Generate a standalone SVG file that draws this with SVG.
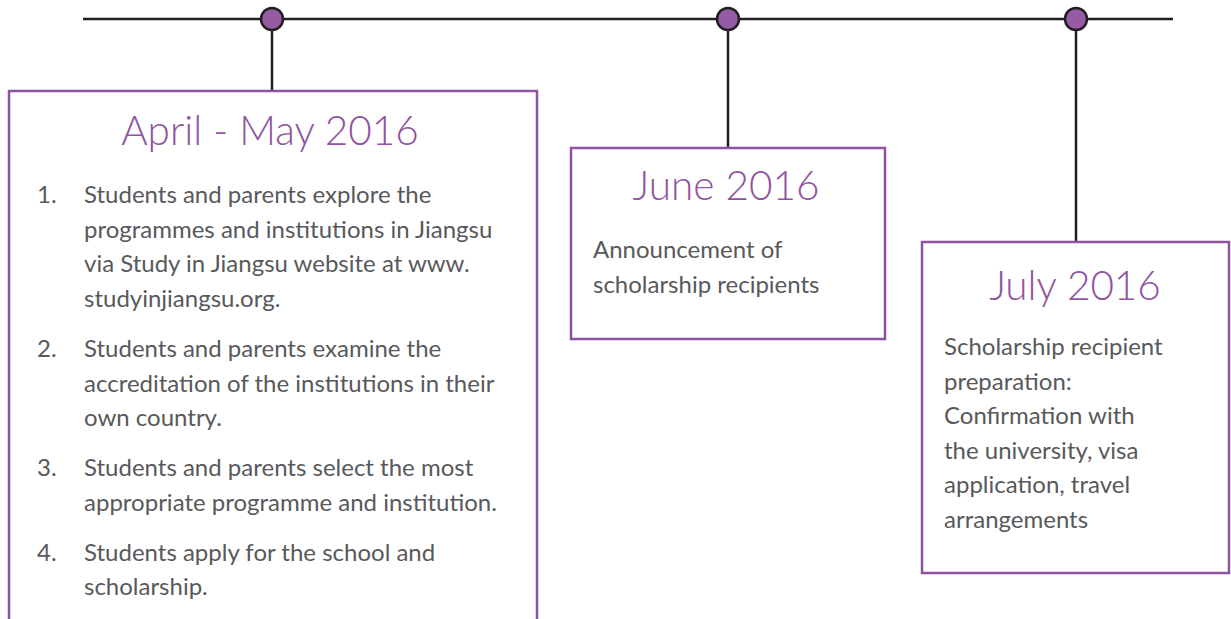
<svg xmlns="http://www.w3.org/2000/svg" width="1231" height="619" viewBox="0 0 1231 619">
<style>
.ln{stroke:#231f20;stroke-width:2.5;fill:none}
.dot{fill:#955ba5;stroke:#231f20;stroke-width:2.5}
.box{fill:#fff;stroke:#8e53a1;stroke-width:2.5}
.ttl{font-family:Lato,"Liberation Sans",sans-serif;font-weight:300;font-size:40.5px;fill:#8e53a1;text-anchor:middle}
.txt{font-family:Lato,"Liberation Sans",sans-serif;font-weight:400;font-size:24px;fill:#58595b}
</style>
<rect width="1231" height="619" fill="#fff"/>
<g id="connectors">
<line class="ln" x1="83" y1="19" x2="1173" y2="19"/>
<line class="ln" x1="272" y1="19" x2="272" y2="91"/>
<line class="ln" x1="728" y1="19" x2="728" y2="148"/>
<line class="ln" x1="1076" y1="19" x2="1076" y2="242"/>
<circle class="dot" cx="272" cy="19" r="11"/>
<circle class="dot" cx="728" cy="19" r="11"/>
<circle class="dot" cx="1076" cy="19" r="11"/>
</g>
<g id="april-may">
<rect class="box" x="9" y="91" width="528" height="540"/>
<text class="ttl" x="270" y="145">April - May 2016</text>
<text class="txt" x="37" y="203">1.</text>
<text class="txt" x="84" y="203">Students and parents explore the</text>
<text class="txt" x="84" y="238">programmes and institutions in Jiangsu</text>
<text class="txt" x="84" y="272">via Study in Jiangsu website at www.</text>
<text class="txt" x="84" y="307">studyinjiangsu.org.</text>
<text class="txt" x="37" y="357">2.</text>
<text class="txt" x="84" y="357">Students and parents examine the</text>
<text class="txt" x="84" y="392">accreditation of the institutions in their</text>
<text class="txt" x="84" y="426">own country.</text>
<text class="txt" x="37" y="476">3.</text>
<text class="txt" x="84" y="476">Students and parents select the most</text>
<text class="txt" x="84" y="511">appropriate programme and institution.</text>
<text class="txt" x="37" y="561">4.</text>
<text class="txt" x="84" y="561">Students apply for the school and</text>
<text class="txt" x="84" y="595">scholarship.</text>
</g>
<g id="june">
<rect class="box" x="571" y="148" width="314" height="191"/>
<text class="ttl" x="726" y="200">June 2016</text>
<text class="txt" x="593" y="258">Announcement of</text>
<text class="txt" x="593" y="293">scholarship recipients</text>
</g>
<g id="july">
<rect class="box" x="922" y="242" width="307" height="331"/>
<text class="ttl" x="1075" y="300">July 2016</text>
<text class="txt" x="944" y="355">Scholarship recipient</text>
<text class="txt" x="944" y="390">preparation:</text>
<text class="txt" x="944" y="424">Confirmation with</text>
<text class="txt" x="944" y="459">the university, visa</text>
<text class="txt" x="944" y="493">application, travel</text>
<text class="txt" x="944" y="528">arrangements</text>
</g>
</svg>
